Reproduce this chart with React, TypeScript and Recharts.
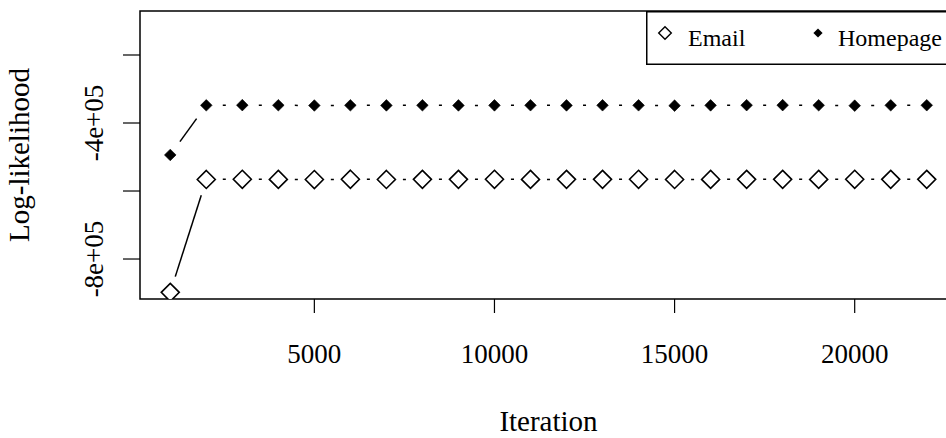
import { LineChart, Line, XAxis, YAxis, ReferenceArea, Legend, Label } from "recharts";

const ITERATIONS = [1000, 2000, 3000, 4000, 5000, 6000, 7000, 8000, 9000, 10000, 11000,
  12000, 13000, 14000, 15000, 16000, 17000, 18000, 19000, 20000, 21000, 22000];

const EMAIL = [-898000, -566000, -565500, -565800, -566300, -565400, -566000, -565700,
  -565600, -565500, -565900, -565700, -565600, -565500, -566000, -565800, -565700,
  -565600, -565800, -565500, -565700, -565600];

const HOMEPAGE = [-494000, -348000, -347500, -347800, -348500, -348000, -348200, -347900,
  -348300, -348100, -347800, -348200, -347900, -348000, -349000, -348100, -347600,
  -347500, -347900, -349000, -348000, -347800];

const X_TICKS = [5000, 10000, 15000, 20000];
const Y_TICKS = [-800000, -600000, -400000, -200000];
// R leaves out the labels that would overlap
const Y_LABELS = ["-8e+05", "", "-4e+05", ""];

const X_DOMAIN = [160, 22840];
const Y_DOMAIN = [-917600, -70600];

const data = ITERATIONS.map((it, i) => ({ iter: it, email: EMAIL[i], homepage: HOMEPAGE[i] }));

const FONT = "'Liberation Serif', 'Times New Roman', serif";
const GAP = 16.5; // type="b": lines stop short of the points

function diamond(cx: number, cy: number, r: number) {
  return `M${cx},${cy - r}L${cx + r},${cy}L${cx},${cy + r}L${cx - r},${cy}Z`;
}

function makeDot(open: boolean) {
  return (props: any) => {
    const { cx, cy, index, points } = props;
    const next = points && points[index + 1];
    let seg = null;
    if (next) {
      const dx = next.x - cx;
      const dy = next.y - cy;
      const len = Math.hypot(dx, dy);
      if (len > 2 * GAP) {
        const ux = dx / len;
        const uy = dy / len;
        seg = (
          <line x1={cx + ux * GAP} y1={cy + uy * GAP} x2={next.x - ux * GAP} y2={next.y - uy * GAP}
                stroke="#000" strokeWidth={1.5} />
        );
      }
    }
    return (
      <g key={`d-${index}`}>
        {seg}
        <path d={diamond(cx, cy, open ? 9 : 5.8)} fill={open ? "#fff" : "#000"}
              stroke="#000" strokeWidth={open ? 1.6 : 0.6} />
      </g>
    );
  };
}

const XTick = (props: any) => {
  const { x, y, payload } = props;
  return (
    <text x={x} y={y + 19} textAnchor="middle" fontFamily={FONT} fontSize={27} fill="#000">
      {payload.value}
    </text>
  );
};

const YTick = (props: any) => {
  const { x, y, payload } = props;
  const label = Y_LABELS[Y_TICKS.indexOf(payload.value)];
  if (!label) return null;
  return (
    <text x={x} y={y} transform={`rotate(-90, ${x}, ${y})`} textAnchor="middle"
          fontFamily={FONT} fontSize={27} fill="#000">
      {label}
    </text>
  );
};

const LegendBox = () => (
  <svg width={311} height={54} style={{ display: "block" }}>
    <rect x={0.75} y={0.75} width={320} height={52.5} fill="#fff" stroke="#000" strokeWidth={1.5} />
    <path d={diamond(19, 22, 6.3)} fill="#fff" stroke="#000" strokeWidth={1.4} />
    <text x={42} y={35} fontFamily={FONT} fontSize={24} fill="#000">Email</text>
    <path d={diamond(172, 22, 4.6)} fill="#000" />
    <text x={192} y={35} fontFamily={FONT} fontSize={24} fill="#000">Homepage</text>
  </svg>
);

export default function App() {
  return (
    <div style={{ position: "absolute", left: 0, top: 0, width: 946, height: 438, overflow: "hidden", background: "#fff" }}>
      <LineChart width={960} height={438} data={data} margin={{ top: 11, right: 3, bottom: 0, left: 0 }}>
        <XAxis dataKey="iter" type="number" domain={X_DOMAIN} ticks={X_TICKS} height={139}
               axisLine={false} tickSize={14} tickMargin={31} tickLine={{ stroke: "#000", strokeWidth: 1.2 }}
               tick={<XTick />} interval={0}>
          <Label content={(p: any) => (
            <text x={p.viewBox.x + p.viewBox.width / 2} y={431} textAnchor="middle"
                  fontFamily={FONT} fontSize={29} fill="#000">Iteration</text>
          )} />
        </XAxis>
        <YAxis type="number" domain={Y_DOMAIN} ticks={Y_TICKS} width={140} allowDataOverflow
               axisLine={false} tickSize={17} tickMargin={20} tickLine={{ stroke: "#000", strokeWidth: 1.2 }}
               tick={<YTick />} interval={0}>
          <Label content={(p: any) => {
            const cy = p.viewBox.y + p.viewBox.height / 2;
            return (
              <text x={29} y={cy} transform={`rotate(-90, 29, ${cy})`} textAnchor="middle"
                    fontFamily={FONT} fontSize={29} fill="#000">Log-likelihood</text>
            );
          }} />
        </YAxis>
        <ReferenceArea x1={X_DOMAIN[0]} x2={X_DOMAIN[1]} y1={Y_DOMAIN[0]} y2={Y_DOMAIN[1]}
                       fill="none" stroke="#000" strokeWidth={1.5} fillOpacity={0} />
        <Legend layout="vertical" verticalAlign="middle" align="center"
                wrapperStyle={{ left: 646, top: 11, width: 311, height: 54 }}
                content={<LegendBox />} />
        <Line dataKey="email" stroke="none" isAnimationActive={false} dot={makeDot(true)} activeDot={false} />
        <Line dataKey="homepage" stroke="none" isAnimationActive={false} dot={makeDot(false)} activeDot={false} />
      </LineChart>
    </div>
  );
}
